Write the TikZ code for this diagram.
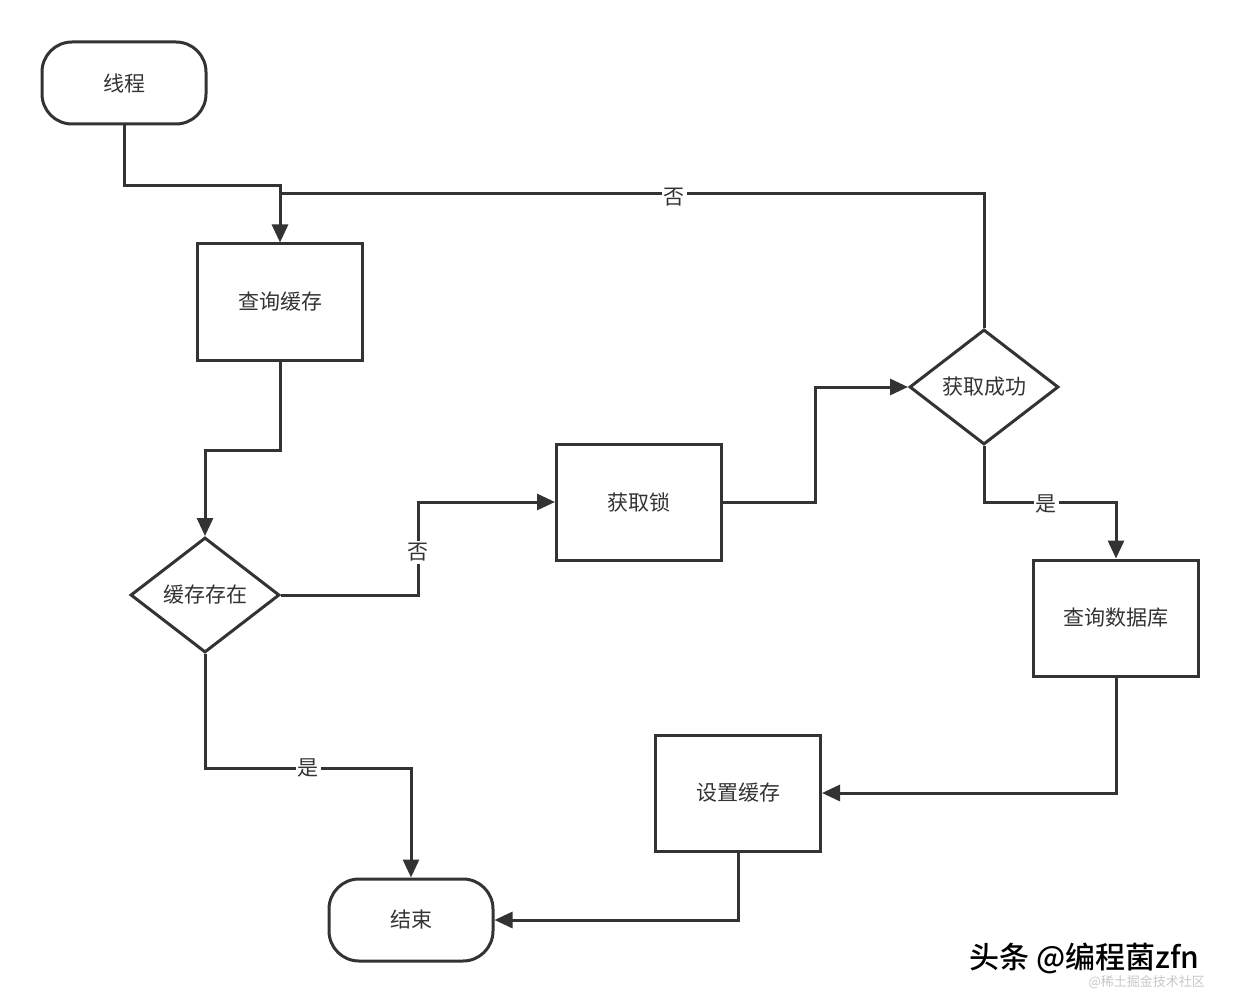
\documentclass[tikz,border=0pt]{standalone}
\usepackage{fontspec}
\setmainfont{Noto Sans CJK SC}
\newfontfamily\markfont{Noto Sans CJK SC Medium}
\usetikzlibrary{shapes.geometric}
\usetikzlibrary{arrows.meta}
\usetikzlibrary{calc}
\definecolor{ink}{HTML}{333333}

\tikzset{
    terminal/.style={draw=ink, line width=3pt, rounded corners=30pt,
        minimum width=164pt, minimum height=82pt},
    process/.style={draw=ink, line width=3pt,
        minimum width=165pt, minimum height=116pt},
    decision/.style={draw=ink, line width=3pt, diamond, inner sep=0pt,
        minimum width=149pt, minimum height=115pt},
    flow/.style={draw=ink, line width=3pt, -{Triangle[length=18pt,width=16pt]}},
    lbl/.style={fill=white, inner sep=2pt, text=ink}
}

\begin{document}
\begin{tikzpicture}[x=1pt, y=-1pt, font=\fontsize{21}{25}\selectfont, text=ink]
    \useasboundingbox (0,0) rectangle (1240,1003);
    \node[terminal] (start) at (124,83) {线程};
    \node[process] (query) at (280,302) {查询缓存};
    \node[decision] (exist) at (205,595) {缓存存在};
    \node[process] (lock) at (639,502) {获取锁};
    \node[decision] (got) at (984,387) {获取成功};
    \node[process] (db) at (1116,618) {查询数据库};
    \node[process] (setc) at (738,793) {设置缓存};
    \node[terminal] (finish) at (411,920) {结束};

    \draw[flow] (start.south) -- ++(0,60) -| (query.north);
    \draw[draw=ink, line width=3pt] (got.north) |- (query.north |- 0,194)
        node[lbl, pos=0.72, yshift=-3pt] {否};
    \draw[flow] (query.south) -- ++(0,89) -| (exist.north);
    \coordinate (m1) at ($(exist.east)!0.5!(lock.west)$);
    \draw[flow] (exist.east) -| (m1) node[lbl, yshift=-4pt] {否} |- (lock.west);
    \draw[flow] (exist.south) -- ++(0,114) -| node[lbl, pos=0.25] {是} (finish.north);
    \coordinate (m2) at ($(lock.east)!0.5!(got.west)$);
    \draw[flow] (lock.east) -| (m2) |- (got.west);
    \coordinate (m3) at ($(got.south)!0.5!(db.north)$);
    \draw[flow] (got.south) -- (got.south |- m3)
        -- node[lbl, pos=0.47, yshift=-2pt] {是} (db.north |- m3) -- (db.north);
    \draw[flow] (db.south) |- (setc.east);
    \draw[flow] (setc.south) |- (finish.east);

    \node[text=black!22, font=\fontsize{13}{15}\selectfont, anchor=west] (mark2) at (1085,982) {@稀土掘金技术社区};
    \node[text=black, font=\markfont\fontsize{30}{34}\selectfont, anchor=west] (mark) at (966,958) {头条 @编程菌zfn};
\end{tikzpicture}
\end{document}
